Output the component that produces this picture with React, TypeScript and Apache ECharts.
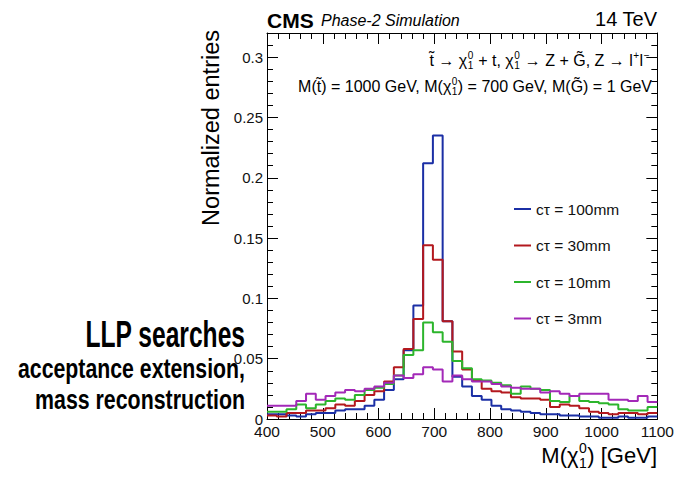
import React, { useEffect, useRef } from "react";
import * as echarts from "echarts";

// Histogram binning (40 bins of 17.5 GeV from 400 to 1100 GeV)
const BIN_START = 400;
const BIN_WIDTH = 17.5;
const BIN_COUNT = 40;

const seriesNames = ["cτ = 100mm", "cτ = 30mm", "cτ = 10mm", "cτ = 3mm"];
const seriesColors = ["#1b2fa5", "#b3181e", "#2cb52c", "#a329b8"];

const ct100 = [
  0.004, 0.004, 0.003, 0.002, 0.004, 0.005, 0.005, 0.007, 0.008, 0.008,
  0.011, 0.016, 0.024, 0.033, 0.057, 0.094, 0.212, 0.235, 0.081, 0.035,
  0.027, 0.019, 0.016, 0.011, 0.008, 0.007, 0.006, 0.005, 0.004, 0.004,
  0.003, 0.003, 0.002, 0.002, 0.001, 0.001, 0.002, 0.001, 0.001, 0.002,
];
const ct30 = [
  0.003, 0.002, 0.005, 0.005, 0.007, 0.007, 0.009, 0.012, 0.011, 0.015,
  0.02, 0.023, 0.031, 0.043, 0.058, 0.083, 0.144, 0.132, 0.081, 0.056,
  0.041, 0.032, 0.025, 0.023, 0.022, 0.018, 0.017, 0.017, 0.016, 0.01,
  0.012, 0.011, 0.009, 0.006, 0.005, 0.004, 0.005, 0.005, 0.004, 0.005,
];
const ct10 = [
  0.006, 0.006, 0.008, 0.012, 0.009, 0.012, 0.015, 0.017, 0.016, 0.02,
  0.024, 0.026, 0.029, 0.036, 0.053, 0.057, 0.08, 0.072, 0.064, 0.048,
  0.042, 0.033, 0.032, 0.03, 0.028, 0.021, 0.027, 0.025, 0.024, 0.015,
  0.014, 0.019, 0.015, 0.014, 0.013, 0.012, 0.008, 0.007, 0.007, 0.01,
];
const ct3 = [
  0.011, 0.011, 0.011, 0.015, 0.021, 0.016, 0.019, 0.022, 0.024, 0.023,
  0.025, 0.027, 0.03, 0.036, 0.034, 0.037, 0.043, 0.041, 0.031, 0.036,
  0.033, 0.031, 0.031, 0.029, 0.027, 0.026, 0.025, 0.025, 0.022, 0.023,
  0.021, 0.019, 0.021, 0.021, 0.021, 0.016, 0.016, 0.015, 0.019, 0.014,
];
const allValues = [ct100, ct30, ct10, ct3];

const FONT = '"Liberation Sans", Arial, Helvetica, sans-serif';

type Seg = { t?: string; sup?: string; sub?: string };

// Formula pieces (text content)
const decayLine: Seg[] = [
  { t: "t\u0303 → χ" }, { sup: "0", sub: "1" }, { t: " + t, χ" }, { sup: "0", sub: "1" },
  { t: " → Z + G\u0303, Z → l" }, { sup: "+" }, { t: "l" }, { sup: "−" },
];
const massLine: Seg[] = [
  { t: "M(t\u0303) = 1000 GeV, M(χ" }, { sup: "0", sub: "1" },
  { t: ") = 700 GeV, M(G\u0303) = 1 GeV" },
];
const xTitle: Seg[] = [{ t: "M(χ" }, { sup: "0", sub: "1" }, { t: ") [GeV]" }];

let measureCtx: CanvasRenderingContext2D | null = null;
function textWidth(text: string, font: string) {
  if (!measureCtx) measureCtx = document.createElement("canvas").getContext("2d");
  if (!measureCtx) return text.length * 8;
  measureCtx.font = font;
  return measureCtx.measureText(text).width;
}

function formula(segs: Seg[], rightX: number, topY: number, size: number) {
  const main = `${size}px ${FONT}`;
  const smallSize = Math.round(size * 0.62);
  const small = `${smallSize}px ${FONT}`;
  const widths = segs.map((s) =>
    s.t !== undefined
      ? textWidth(s.t, main)
      : Math.max(s.sup ? textWidth(s.sup, small) : 0, s.sub ? textWidth(s.sub, small) : 0) + 1
  );
  const total = widths.reduce((a, b) => a + b, 0);
  let x = rightX - total;
  const els: any[] = [];
  segs.forEach((s, i) => {
    if (s.t !== undefined) {
      els.push({ type: "text", x, y: topY, style: { text: s.t, font: main, fill: "#000", textVerticalAlign: "top" } });
    } else {
      if (s.sup)
        els.push({ type: "text", x: x + 0.5, y: topY - size * 0.12, style: { text: s.sup, font: small, fill: "#000", textVerticalAlign: "top" } });
      if (s.sub)
        els.push({ type: "text", x: x + 0.5, y: topY + size * 0.55, style: { text: s.sub, font: small, fill: "#000", textVerticalAlign: "top" } });
    }
    x += widths[i];
  });
  return els;
}

function squeezed(text: string, rightX: number, topY: number, size: number, targetWidth: number) {
  const font = `bold ${size}px ${FONT}`;
  const w = textWidth(text, font);
  return {
    type: "text",
    x: rightX,
    y: topY,
    scaleX: targetWidth / w,
    style: { text: text, font, fill: "#000", textAlign: "right", textVerticalAlign: "top" },
  };
}

function stepData(vals: number[]) {
  const pts: number[][] = [];
  for (let k = 0; k < BIN_COUNT; k++) pts.push([BIN_START + k * BIN_WIDTH, vals[k]]);
  pts.push([BIN_START + BIN_COUNT * BIN_WIDTH, vals[BIN_COUNT - 1]]);
  return pts;
}

export default function App() {
  const ref = useRef<HTMLDivElement>(null);
  useEffect(() => {
    if (!ref.current) return;
    const chart = echarts.init(ref.current, undefined, { renderer: "svg" });
    const black = { color: "#000", width: 1 };
    const xBase = (pos: string, labels: boolean) => ({
      type: "value",
      position: pos,
      min: 400,
      max: 1100,
      interval: 100,
      axisLine: { show: true, onZero: false, lineStyle: black },
      axisTick: { show: true, inside: true, length: 11, lineStyle: black },
      minorTick: { show: true, splitNumber: 5, length: 6, lineStyle: black },
      splitLine: { show: false },
      minorSplitLine: { show: false },
      axisLabel: {
        show: labels,
        margin: 4,
        fontSize: 15.5,
        color: "#111",
        fontFamily: FONT,
        formatter: (v: number) => String(v),
      },
    });
    const yMajor = (pos: string, labels: boolean) => ({
      type: "value",
      position: pos,
      min: 0,
      max: 0.32,
      interval: 0.05,
      axisLine: { show: true, onZero: false, lineStyle: black },
      axisTick: { show: true, inside: true, length: 11, lineStyle: black },
      splitLine: { show: false },
      axisLabel: {
        show: labels,
        showMaxLabel: false,
        margin: 4,
        fontSize: 15,
        color: "#111",
        fontFamily: FONT,
      },
    });
    const yMinor = (pos: string) => ({
      type: "value",
      position: pos,
      min: 0,
      max: 0.32,
      interval: 0.01,
      axisLine: { show: false, onZero: false },
      axisTick: { show: true, inside: true, length: 6, lineStyle: black },
      splitLine: { show: false },
      axisLabel: { show: false },
    });
    chart.setOption({
      animation: false,
      backgroundColor: "#ffffff",
      grid: { left: 267, right: 19, top: 33, bottom: 58, containLabel: false },
      xAxis: [xBase("bottom", true), xBase("top", false)],
      yAxis: [yMajor("left", true), yMinor("left"), yMajor("right", false), yMinor("right")],
      legend: {
        orient: "vertical",
        left: 509,
        top: 194,
        icon: "rect",
        itemWidth: 17,
        itemHeight: 2,
        itemGap: 16.5,
        data: seriesNames,
        textStyle: { fontSize: 15.5, color: "#111", fontFamily: FONT, lineHeight: 20 },
      },
      series: allValues.map((vals, i) => ({
        type: "line",
        name: seriesNames[i],
        xAxisIndex: 0,
        yAxisIndex: 0,
        step: "end",
        showSymbol: false,
        symbol: "none",
        data: stepData(vals),
        lineStyle: { color: seriesColors[i], width: 2 },
        itemStyle: { color: seriesColors[i] },
        z: 2 + i,
      })),
      graphic: [
        {
          type: "text",
          x: 267,
          y: 10,
          style: { text: "CMS", font: `bold 21px ${FONT}`, fill: "#000", textVerticalAlign: "top" },
        },
        {
          type: "text",
          x: 321,
          y: 12,
          style: { text: "Phase-2 Simulation", font: `italic 16px ${FONT}`, fill: "#000", textVerticalAlign: "top" },
        },
        {
          type: "text",
          x: 657,
          y: 9,
          style: { text: "14 TeV", font: `20px ${FONT}`, fill: "#000", textAlign: "right", textVerticalAlign: "top" },
        },
        ...formula(decayLine, 650, 52, 16),
        ...formula(massLine, 652, 78, 16),
        ...formula(xTitle, 657, 444, 22),
        {
          type: "text",
          x: 199,
          y: 30,
          rotation: Math.PI / 2,
          style: {
            text: "Normalized entries",
            font: `23.5px ${FONT}`,
            fill: "#000",
            textAlign: "right",
            textVerticalAlign: "top",
          },
        },
        squeezed("LLP searches", 245, 316, 37, 160),
        squeezed("acceptance extension,", 245, 355, 27, 227),
        squeezed("mass reconstruction", 245, 386, 27, 210),
      ],
    });
    return () => chart.dispose();
  }, []);
  return (
    <div
      ref={ref}
      style={{ position: "fixed", left: 0, top: 0, width: 677, height: 477, background: "#fff" }}
    />
  );
}
